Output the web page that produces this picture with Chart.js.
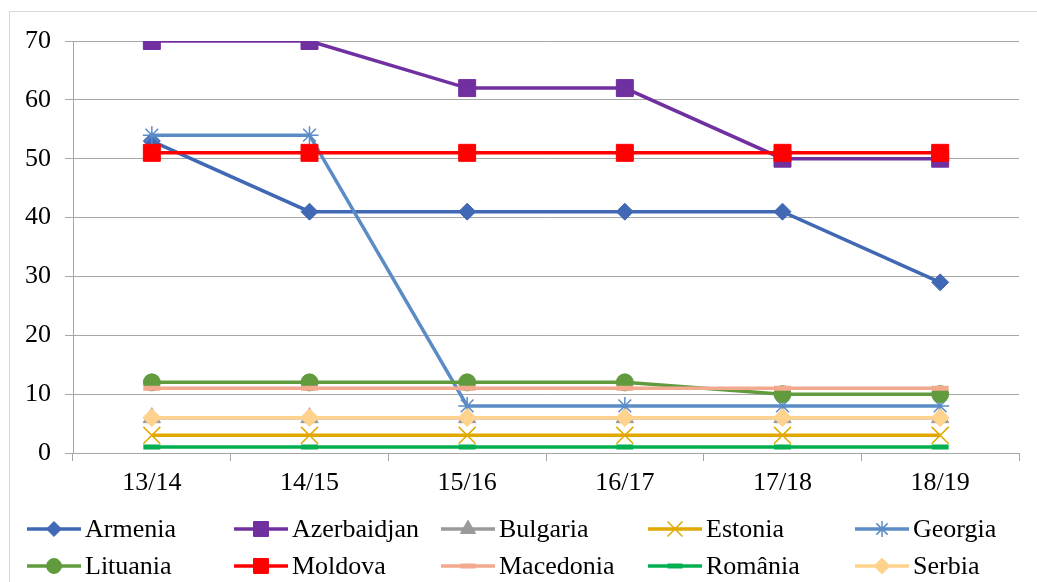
<!DOCTYPE html>
<html>
<head>
<meta charset="utf-8">
<title>Line chart</title>
<script src="https://cdn.jsdelivr.net/npm/chart.js@4.4.0/dist/chart.umd.min.js"></script>
<style>
  html, body { margin: 0; padding: 0; background: #fff; overflow: hidden; }
  #wrap { position: relative; width: 1037px; height: 582px; overflow: hidden; }
  #frame { position: absolute; left: 9px; top: 11px; width: 1100px; height: 700px; border: 1px solid #d9d9d9; }
  #chart { position: absolute; left: 0; top: 0; }
  #legend { position: absolute; left: 27px; top: 510px; display: grid;
            grid-template-columns: repeat(5, 207px); grid-auto-rows: 37px;
            font-family: "Liberation Serif", "Times New Roman", serif; font-size: 26px; color: #000; }
  .item { display: flex; align-items: center; white-space: nowrap; }
  .item canvas { margin-right: 4px; }
</style>
</head>
<body>
<div id="wrap">
  <div id="frame"></div>
  <canvas id="chart" width="1037" height="582"></canvas>
  <div id="legend"></div>
</div>
<script>
// 年度
var seasons = ['13/14', '14/15', '15/16', '16/17', '17/18', '18/19'];

// 各国の値
var armenia     = [53, 41, 41, 41, 41, 29];
var azerbaidjan = [70, 70, 62, 62, 50, 50];
var bulgaria    = [6, 6, 6, 6, 6, 6];
var estonia     = [3, 3, 3, 3, 3, 3];
var georgia     = [54, 54, 8, 8, 8, 8];
var lituania    = [12, 12, 12, 12, 10, 10];
var moldova     = [51, 51, 51, 51, 51, 51];
var macedonia   = [11, 11, 11, 11, 11, 11];
var romania     = [1, 1, 1, 1, 1, 1];
var serbia      = [6, 6, 6, 6, 6, 6];

// 縦軸の目盛
var yTicks = [0, 10, 20, 30, 40, 50, 60, 70];

// 系列ごとの見た目
var series = [
    { label: 'Armenia',     data: armenia,     color: '#4068b4', style: 'rectRot',  r: 8.5, bw: 1 },
    { label: 'Azerbaidjan', data: azerbaidjan, color: '#7030a0', style: 'rect',     r: 12,  bw: 1 },
    { label: 'Bulgaria',    data: bulgaria,    color: '#9a9a9a', style: 'triangle', r: 10,  bw: 1 },
    { label: 'Estonia',     data: estonia,     color: '#e0a800', style: 'crossRot', r: 12,  bw: 1.5 },
    { label: 'Georgia',     data: georgia,     color: '#5b8cc6', style: 'star',     r: 9,   bw: 1.5 },
    { label: 'Lituania',    data: lituania,    color: '#629b3e', style: 'circle',   r: 8.5, bw: 1 },
    { label: 'Moldova',     data: moldova,     color: '#ff0000', style: 'rect',     r: 12,  bw: 1 },
    { label: 'Macedonia',   data: macedonia,   color: '#f2a98e', style: 'line',     r: 8.5, bw: 5 },
    { label: 'România',     data: romania,     color: '#00b050', style: 'line',     r: 8.5, bw: 5 },
    { label: 'Serbia',      data: serbia,      color: '#ffd38e', style: 'rectRot',  r: 9,   bw: 1 }
];

var font = { family: '"Liberation Serif", "Times New Roman", serif', size: 26 };
var gridColor = '#a6a6a6';

var datasets = series.map(function (s, i) {
    return {
        label: s.label,
        data: s.data,
        borderColor: s.color,
        backgroundColor: s.color,
        borderWidth: 3.5,
        pointStyle: s.style,
        pointRadius: s.r,
        pointBorderWidth: s.bw,
        pointBackgroundColor: s.color,
        pointBorderColor: s.color,
        tension: 0,
        order: series.length - i   // 後の系列を上に描く
    };
});

var chart = new Chart(document.getElementById('chart'), {
    type: 'line',
    data: { labels: seasons, datasets: datasets },
    options: {
        responsive: false,
        animation: false,
        devicePixelRatio: 1,
        layout: { padding: { left: 0, right: 18, top: 41, bottom: 84 } },
        plugins: { legend: { display: false }, tooltip: { enabled: false } },
        scales: {
            x: {
                offset: true,
                grid: { drawOnChartArea: false, drawTicks: true, tickLength: 8, color: gridColor, offset: true },
                border: { color: gridColor, width: 1 },
                ticks: { color: '#000', font: font, padding: 7, maxRotation: 0 },
                afterFit: function (scale) { scale.height = 45; }
            },
            y: {
                min: yTicks[0],
                max: yTicks[yTicks.length - 1],
                afterBuildTicks: function (scale) {
                    scale.ticks = yTicks.map(function (v) { return { value: v }; });
                },
                grid: { color: gridColor, lineWidth: 1, tickLength: 8 },
                border: { color: gridColor, width: 1 },
                ticks: { color: '#000', font: font, padding: 14 },
                afterFit: function (scale) { scale.width = 73; }
            }
        }
    }
});

// 凡例（線＋マーカー）
var legend = document.getElementById('legend');
series.forEach(function (s) {
    var item = document.createElement('div');
    item.className = 'item';
    var c = document.createElement('canvas');
    c.width = 54; c.height = 24;
    var ctx = c.getContext('2d');
    ctx.strokeStyle = s.color;
    ctx.fillStyle = s.color;
    ctx.lineWidth = 3.5;
    ctx.beginPath();
    ctx.moveTo(0, 12);
    ctx.lineTo(54, 12);
    ctx.stroke();
    if (Chart.helpers && Chart.helpers.drawPoint) {
        ctx.lineWidth = s.bw;
        Chart.helpers.drawPoint(ctx, { pointStyle: s.style, radius: s.r * 0.88, borderWidth: s.bw, rotation: 0 }, 27, 12);
    }
    var t = document.createElement('span');
    t.textContent = s.label;
    item.appendChild(c);
    item.appendChild(t);
    legend.appendChild(item);
});
</script>
</body>
</html>
